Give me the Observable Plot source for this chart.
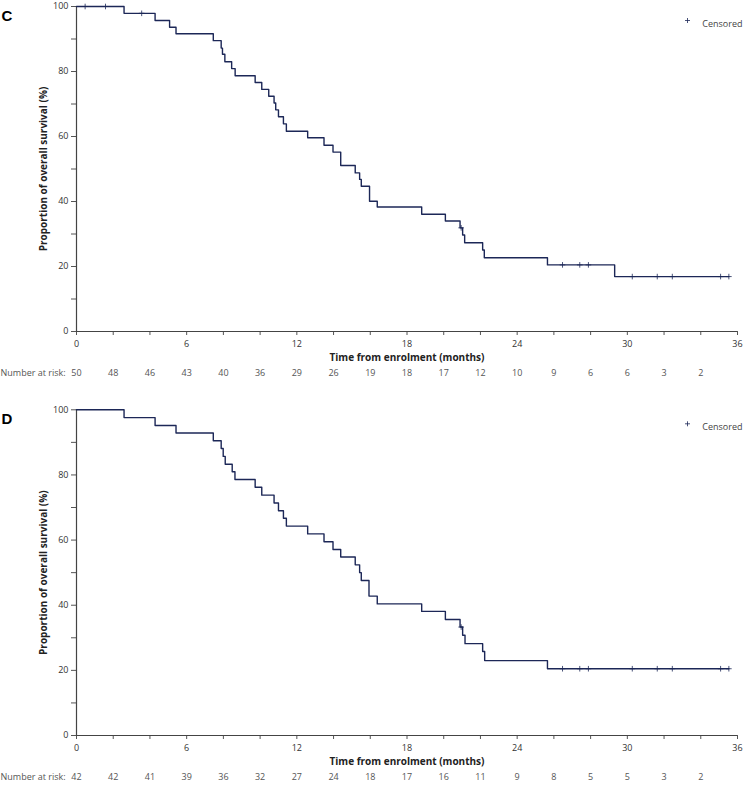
<!DOCTYPE html>
<html><head><meta charset="utf-8">
<script src="https://cdn.jsdelivr.net/npm/d3@7"></script>
<script src="https://cdn.jsdelivr.net/npm/@observablehq/plot@0.6"></script>
<style>
body{margin:0;background:#fff;}
#wrap{width:743px;}
#wrap svg{display:block;}
</style></head><body><div id="wrap"></div>
<script>
// Panel C: Kaplan–Meier steps (time in months, survival %)
const cTime = [0, 2.59, 4.28, 5.07, 5.42, 7.45, 7.88, 7.95, 8.08, 8.45, 8.64, 9.73, 10.09, 10.47, 10.76, 10.85, 11.0, 11.27, 11.43, 12.59, 13.48, 13.97, 14.39, 15.18, 15.42, 15.51, 15.96, 16.38, 18.8, 20.09, 20.89, 21.03, 21.14, 22.12, 22.21, 25.65, 29.31, 35.53];
const cSurv = [100, 97.9, 95.7, 93.6, 91.6, 89.5, 87.2, 85.3, 83.0, 80.9, 78.7, 76.6, 74.5, 72.4, 70.3, 68.2, 66.1, 63.9, 61.6, 59.6, 57.3, 55.2, 51.1, 48.8, 46.8, 44.7, 40.1, 38.3, 36.1, 34.0, 31.9, 29.7, 27.3, 25.1, 22.7, 20.5, 16.9, 16.9];
const cCensored = [0.47, 1.58, 3.55, 20.95, 26.47, 27.41, 27.88, 30.27, 31.63, 32.45, 35.08, 35.53];
const cRisk = [50, 48, 46, 43, 40, 36, 29, 26, 19, 18, 17, 12, 10, 9, 6, 6, 3, 2];

// Panel D
const dTime = [0, 2.59, 4.28, 5.42, 7.45, 7.88, 7.99, 8.10, 8.48, 8.63, 9.73, 10.09, 10.76, 11.0, 11.27, 11.43, 12.59, 13.48, 13.97, 14.39, 15.18, 15.42, 15.51, 15.93, 16.38, 18.8, 20.09, 20.89, 21.03, 21.16, 22.12, 22.23, 25.65, 35.53];
const dSurv = [100, 97.6, 95.2, 92.9, 90.5, 88.1, 85.7, 83.3, 81.0, 78.6, 76.2, 73.8, 71.4, 69.0, 66.7, 64.3, 61.9, 59.5, 57.1, 54.8, 52.4, 50.0, 47.6, 42.8, 40.4, 38.1, 35.6, 33.3, 30.8, 28.2, 25.8, 23.0, 20.5, 20.5];
const dCensored = [20.95, 26.47, 27.41, 27.88, 30.27, 31.63, 32.45, 35.08, 35.53];
const dRisk = [42, 42, 41, 39, 36, 32, 27, 24, 18, 17, 16, 11, 9, 8, 5, 5, 3, 2];

const riskMonths = [0, 2, 4, 6, 8, 10, 12, 14, 16, 18, 20, 22, 24, 26, 28, 30, 32, 34];
const xTicks = [0, 2, 4, 6, 8, 10, 12, 14, 16, 18, 20, 22, 24, 26, 28, 30, 32, 34, 36];
const yTicks = [0, 10, 20, 30, 40, 50, 60, 70, 80, 90, 100];

const navy = "#1c2757";
const plusSym = {draw(ctx, size) {const r = Math.sqrt(size / Math.PI); ctx.moveTo(0, -r); ctx.lineTo(0, r); ctx.moveTo(-r, 0); ctx.lineTo(r, 0);}};

function panel({letter, time, surv, cens, risk, height, mt, mb}) {
  const curve = time.map((t, i) => ({t, s: surv[i]}));
  const stepAt = t => {let s = surv[0]; for (let i = 0; i < time.length; i++) if (time[i] <= t) s = surv[i]; return s;};
  const censPts = cens.map(t => ({t, s: stepAt(t)}));
  const riskData = riskMonths.map((m, i) => ({m, n: risk[i]}));
  return Plot.plot({
    width: 743, height, marginTop: mt, marginBottom: mb, marginLeft: 76, marginRight: 6,
    style: {fontFamily: "'Open Sans', sans-serif", fontSize: "9px", color: "#333", background: "white", overflow: "visible"},
    x: {domain: [0, 36]},
    y: {domain: [0, 100]},
    marks: [
      Plot.axisX({ticks: xTicks, tickSize: 4, tickPadding: 5, tickFormat: d => d % 6 === 0 ? d : "", label: null, stroke: "#555", fill: "#333"}),
      Plot.axisY({ticks: yTicks, tickSize: 5, tickPadding: 3, tickFormat: d => d % 20 === 0 ? d : "", label: null, stroke: "#555", fill: "#333"}),
      Plot.ruleX([0], {stroke: "#444", strokeWidth: 1.2}),
      Plot.ruleY([0], {stroke: "#444", strokeWidth: 1.2}),
      Plot.line(curve, {x: "t", y: "s", curve: "step-after", stroke: navy, strokeWidth: 1.4}),
      Plot.dot(censPts, {x: "t", y: "s", symbol: plusSym, r: 2.8, stroke: navy, strokeWidth: 0.8, fill: "none"}),
      Plot.text(riskData, {x: "m", text: "n", frameAnchor: "bottom", dy: 44, fill: "#555"}),
      Plot.text(["Number at risk:"], {frameAnchor: "bottom-left", dx: -76, dy: 44, textAnchor: "start", fill: "#555"}),
      Plot.text(["Time from enrolment (months)"], {frameAnchor: "bottom", dy: 29, textAnchor: "middle", fontWeight: "bold", fontSize: 10, fill: "#222"}),
      Plot.text(["Proportion of overall survival (%)"], {frameAnchor: "left", dx: -33, rotate: -90, textAnchor: "middle", fontWeight: "bold", fontSize: 10, fill: "#222"}),
      Plot.text([letter], {frameAnchor: "top-left", dx: -75, dy: 4, textAnchor: "start", fontSize: 15, fontWeight: "bold", fontFamily: "'Liberation Sans', Arial, sans-serif", fill: "#000"}),
      Plot.dot([0], {frameAnchor: "top-right", dx: -50, dy: 14, symbol: plusSym, r: 2.5, stroke: navy, strokeWidth: 0.8, fill: "none"}),
      Plot.text(["Censored"], {frameAnchor: "top-right", dx: 5, dy: 14, textAnchor: "end", fill: "#444"})
    ]
  });
}

const wrap = document.getElementById("wrap");
wrap.append(panel({letter: "C", time: cTime, surv: cSurv, cens: cCensored, risk: cRisk, height: 385, mt: 6, mb: 54}));
wrap.append(panel({letter: "D", time: dTime, surv: dSurv, cens: dCensored, risk: dRisk, height: 400, mt: 24.3, mb: 50}));
</script>
</body></html>
